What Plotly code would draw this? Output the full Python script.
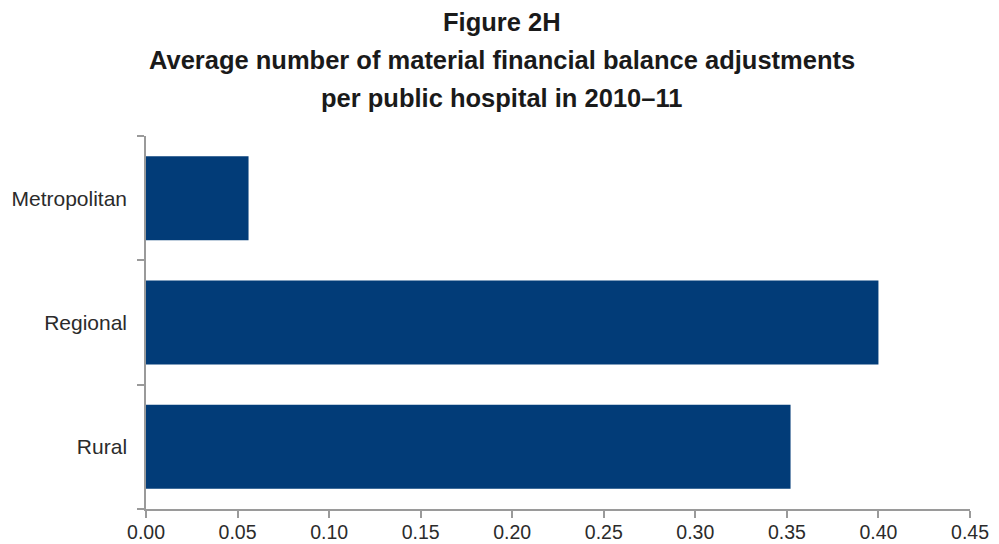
import plotly.graph_objects as go

# Hospital categories (top to bottom) and average adjustments per hospital
categories = ["Metropolitan", "Regional", "Rural"]
avg_adjustments = [0.056, 0.40, 0.352]

x_ticks = [0.00, 0.05, 0.10, 0.15, 0.20, 0.25, 0.30, 0.35, 0.40, 0.45]
x_tick_text = [f"{v:.2f}" for v in x_ticks]

title_lines = [
    "Figure 2H",
    "Average number of material financial balance adjustments",
    "per public hospital in 2010–11",
]

BAR_COLOR = "#023c78"
AXIS_COLOR = "#9a9a9a"
TEXT_COLOR = "#2b2b2b"

fig = go.Figure(
    go.Bar(
        x=avg_adjustments,
        y=categories,
        orientation="h",
        marker=dict(color=BAR_COLOR, line=dict(width=0)),
        hoverinfo="x+y",
    )
)

fig.update_layout(
    width=999,
    height=544,
    margin=dict(l=146, r=29, t=136, b=35),
    paper_bgcolor="white",
    plot_bgcolor="white",
    bargap=0.325,
    showlegend=False,
    font=dict(family="Liberation Sans, Arial, sans-serif", size=20, color=TEXT_COLOR),
)

fig.update_xaxes(
    range=[0, 0.45],
    tickvals=x_ticks,
    ticktext=x_tick_text,
    showgrid=False,
    zeroline=False,
    showline=True,
    linecolor=AXIS_COLOR,
    linewidth=1.5,
    ticks="outside",
    ticklen=7,
    tickwidth=1.5,
    tickcolor=AXIS_COLOR,
    tickfont=dict(size=19.5, color=TEXT_COLOR),
    ticklabelstandoff=-2,
    automargin=False,
)

fig.update_yaxes(
    categoryorder="array",
    categoryarray=categories[::-1],
    showgrid=False,
    zeroline=False,
    showline=True,
    linecolor=AXIS_COLOR,
    linewidth=1.5,
    ticks="outside",
    ticklen=7,
    tickwidth=1.5,
    tickcolor=AXIS_COLOR,
    tickson="boundaries",
    tickfont=dict(size=21, color=TEXT_COLOR),
    ticklabelstandoff=13,
    automargin=False,
)

# Three-line bold title, each line placed by its centre offset above the plot
line_centres = [22, 60, 98]
plot_centre_x = 146 + (999 - 146 - 29) / 2
for text, yc in zip(title_lines, line_centres):
    fig.add_annotation(
        text=f"<b>{text}</b>",
        xref="paper",
        yref="paper",
        x=0.5,
        y=1,
        xanchor="center",
        yanchor="middle",
        yshift=136 - yc,
        xshift=501.5 - plot_centre_x,
        showarrow=False,
        font=dict(family="Liberation Sans, Arial, sans-serif", size=25.5, color="#1a1a1a"),
    )

fig.write_html("out.html")
